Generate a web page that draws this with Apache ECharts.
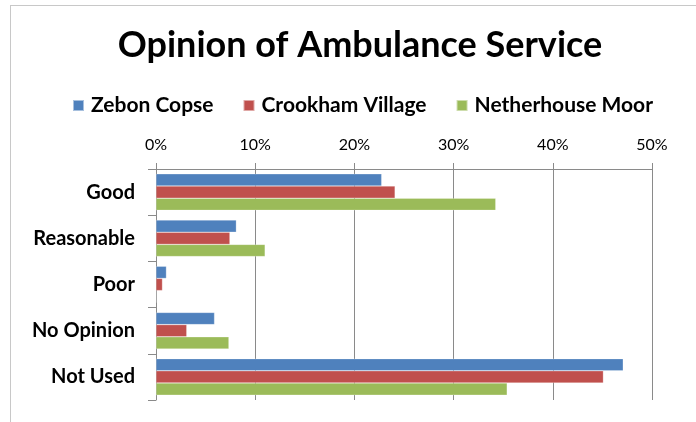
<!DOCTYPE html>
<html>
<head>
<meta charset="utf-8">
<script src="https://cdn.jsdelivr.net/npm/echarts@6/dist/echarts.min.js"></script>
<style>
html,body{margin:0;padding:0;background:#fff;}
#frame{position:absolute;left:10px;top:5px;width:700px;height:430px;border-left:1px solid #c8c8c8;border-top:1px solid #c8c8c8;}
#chart{position:absolute;left:0;top:0;width:696px;height:422px;}
</style>
</head>
<body>
<div id="frame"></div>
<div id="chart"></div>
<script>
var categories = ['Good', 'Reasonable', 'Poor', 'No Opinion', 'Not Used'];
var seriesNames = ['Zebon Copse', 'Crookham Village', 'Netherhouse Moor'];
var zebonCopse = [22.75, 8.1, 1.05, 5.9, 47.1];
var crookhamVillage = [24.1, 7.45, 0.65, 3.1, 45.1];
var netherhouseMoor = [34.25, 11.0, 0, 7.35, 35.4];
var xTicks = [0, 10, 20, 30, 40, 50];
var colors = ['#4f81bd', '#c0504d', '#9bbb59'];

var font = 'Lato, "Open Sans", sans-serif';
var chart = echarts.init(document.getElementById('chart'), null, {renderer: 'canvas'});
var data = [zebonCopse, crookhamVillage, netherhouseMoor];
chart.setOption({
  animation: false,
  color: colors,
  title: {
    text: 'Opinion of Ambulance Service',
    left: 355,
    textAlign: 'center',
    top: 22,
    textStyle: {fontFamily: font, fontWeight: 'bold', fontSize: 36, color: '#000'}
  },
  legend: {
    data: seriesNames,
    top: 90,
    left: 67,
    itemWidth: 11,
    itemHeight: 11,
    itemGap: 29,
    icon: 'rect',
    textStyle: {fontFamily: font, fontWeight: 'bold', fontSize: 21, color: '#000', padding: [0, 0, 0, 2]}
  },
  grid: {left: 156, right: 44, top: 169, bottom: 22, containLabel: false},
  xAxis: {
    type: 'value',
    position: 'top',
    min: xTicks[0],
    max: xTicks[xTicks.length - 1],
    interval: 10,
    axisLine: {show: true, lineStyle: {color: '#8a8a8a'}},
    axisTick: {show: true, length: 6, lineStyle: {color: '#8a8a8a'}},
    splitLine: {show: true, lineStyle: {color: '#8a8a8a', width: 1}},
    axisLabel: {formatter: '{value}%', fontFamily: font, fontSize: 16, color: '#000', margin: 16}
  },
  yAxis: {
    type: 'category',
    data: categories,
    inverse: true,
    axisLine: {show: true, lineStyle: {color: '#8a8a8a'}},
    axisTick: {show: true, length: 8, lineStyle: {color: '#8a8a8a'}},
    axisLabel: {fontFamily: font, fontWeight: 'bold', fontSize: 20, color: '#000', margin: 21}
  },
  series: seriesNames.map(function (n, i) {
    return {
      name: n,
      type: 'bar',
      data: data[i],
      barGap: '0%',
      barCategoryGap: '21%',
      itemStyle: {color: colors[i], borderColor: 'rgba(255,255,255,0.5)', borderWidth: 0.5}
    };
  })
});
</script>
</body>
</html>
